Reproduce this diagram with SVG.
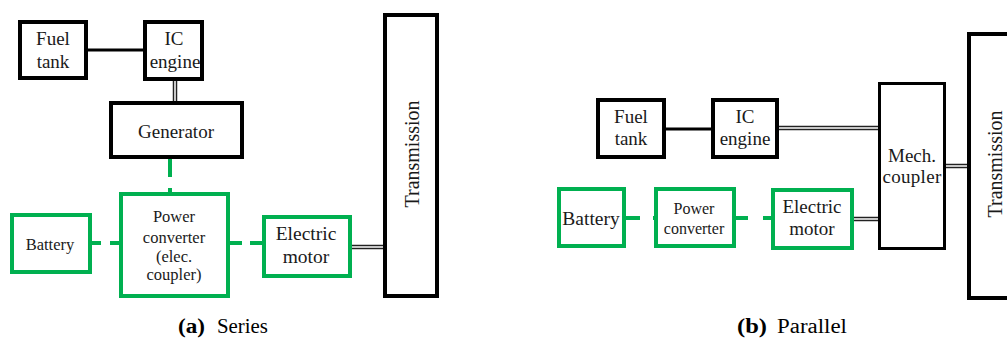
<svg xmlns="http://www.w3.org/2000/svg" width="1007" height="338" viewBox="0 0 1007 338">
<style>
  .blk{fill:#fff;stroke:#000;stroke-width:4}
  .blk3{fill:#fff;stroke:#000;stroke-width:3}
  .grn{fill:#fff;stroke:#00B050;stroke-width:4}
  .t{fill:#1a1a1a;text-anchor:middle}
  .cap{fill:#000;font-size:20px}
  .solid{stroke:#000;stroke-width:3;fill:none}
  .dblo{stroke:#222;stroke-width:4.5;fill:none}
  .dbli{stroke:#fff;stroke-width:1.5;fill:none}
  .dash{stroke:#00B050;stroke-width:4;fill:none}
</style>
<g id="connectors">
  <path class="solid" d="M88 50 H143"/>
  <path class="dblo" d="M175 80 V101"/><path class="dbli" d="M175 80 V101"/>
  <path class="dash" d="M170 159 V177 M170 188 V192"/>
  <path class="dash" d="M92 243 H101 M110 243 H119"/>
  <path class="dash" d="M230 243 H242 M250 243 H262"/>
  <path class="dblo" d="M352 247 H383"/><path class="dbli" d="M352 247 H383"/>
  <path class="solid" d="M666 129 H711"/>
  <path class="dblo" d="M779 128 H878"/><path class="dbli" d="M779 128 H878"/>
  <path class="dblo" d="M854 219 H878"/><path class="dbli" d="M854 219 H878"/>
  <path class="dblo" d="M946 166 H967"/><path class="dbli" d="M946 166 H967"/>
  <path class="dash" d="M626 218 H640 M653 218 H655"/>
  <path class="dash" d="M736 218 H748 M763 218 H772"/>
</g>
<g font-family="Liberation Serif, serif">
<g id="a-fuel-tank"><rect class="blk" x="20" y="22" width="66" height="56"/>
  <text class="t" font-size="19" x="53" y="45">Fuel</text><text class="t" font-size="19" x="53" y="68">tank</text></g>
<g id="a-ic-engine"><rect class="blk" x="145" y="22" width="57" height="57"/>
  <text class="t" font-size="19" x="174" y="45">IC</text><text class="t" font-size="19" x="175" y="68">engine</text></g>
<g id="a-generator"><rect class="blk" x="111" y="103" width="131" height="54"/>
  <text class="t" font-size="19" x="176" y="138">Generator</text></g>
<g id="a-power-converter"><rect class="grn" x="121" y="194" width="107" height="102"/>
  <text class="t" font-size="16.5" x="174" y="222">Power</text>
  <text class="t" font-size="16.5" x="174" y="243">converter</text>
  <text class="t" font-size="16.5" x="174" y="262">(elec.</text>
  <text class="t" font-size="16.5" x="174" y="280">coupler)</text></g>
<g id="a-battery"><rect class="grn" x="12" y="215" width="78" height="57"/>
  <text class="t" font-size="16.5" x="50" y="250">Battery</text></g>
<g id="a-electric-motor"><rect class="grn" x="264" y="217" width="86" height="59"/>
  <text class="t" font-size="19.5" x="306" y="240">Electric</text><text class="t" font-size="19.5" x="306" y="263">motor</text></g>
<g id="a-transmission"><rect class="blk" x="385" y="15" width="52" height="281"/>
  <text class="t" font-size="20" transform="translate(419 154) rotate(-90)">Transmission</text></g>
<g id="b-fuel-tank"><rect class="blk" x="598" y="100" width="66" height="57"/>
  <text class="t" font-size="19" x="631" y="123">Fuel</text><text class="t" font-size="19" x="631" y="145">tank</text></g>
<g id="b-ic-engine"><rect class="blk" x="713" y="100" width="64" height="57"/>
  <text class="t" font-size="19" x="745" y="123">IC</text><text class="t" font-size="19" x="745" y="145">engine</text></g>
<g id="b-mech-coupler"><rect class="blk3" x="879.5" y="83.5" width="65" height="165"/>
  <text class="t" font-size="19" x="912" y="162">Mech.</text><text class="t" font-size="19" x="912" y="183" letter-spacing="0.3">coupler</text></g>
<g id="b-transmission"><rect class="blk" x="969" y="34" width="60" height="264"/>
  <text class="t" font-size="20" transform="translate(1002 164) rotate(-90)">Transmission</text></g>
<g id="b-battery"><rect class="grn" x="559" y="189" width="65" height="57"/>
  <text class="t" font-size="19.5" x="591" y="225">Battery</text></g>
<g id="b-power-converter"><rect class="grn" x="656" y="189" width="78" height="57"/>
  <text class="t" font-size="16" x="694" y="214">Power</text><text class="t" font-size="16" x="694" y="234">converter</text></g>
<g id="b-electric-motor"><rect class="grn" x="773" y="190" width="79" height="58"/>
  <text class="t" font-size="19" x="812" y="213">Electric</text><text class="t" font-size="19" x="812" y="235">motor</text></g>
</g>
<g id="captions" font-family="Liberation Serif, serif">
  <text class="cap" x="178" y="333" font-weight="bold" textLength="27" lengthAdjust="spacingAndGlyphs">(a)</text>
  <text class="cap" x="217" y="333" textLength="51" lengthAdjust="spacingAndGlyphs">Series</text>
  <text class="cap" x="737" y="333" font-weight="bold" textLength="30" lengthAdjust="spacingAndGlyphs">(b)</text>
  <text class="cap" x="777" y="333" textLength="70" lengthAdjust="spacingAndGlyphs">Parallel</text>
</g>
</svg>
